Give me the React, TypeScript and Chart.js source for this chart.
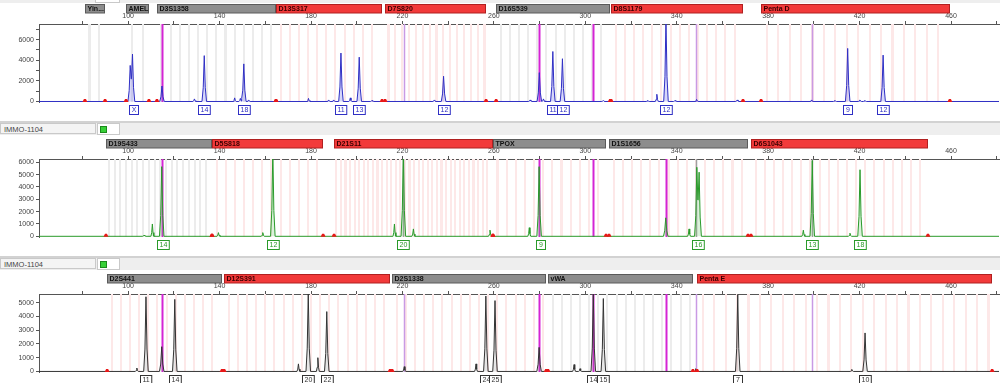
import React, { useEffect, useRef } from 'react';
import { Chart, registerables } from 'chart.js';

Chart.register(...registerables);

const FONT = "'Liberation Sans', Arial, sans-serif";

// ---------- shared x axis (size in bp) ----------
const X_MIN = 61;
const X_MAX = 481;
const X_TICKS = [80, 100, 120, 140, 160, 180, 200, 220, 240, 260, 280, 300, 320, 340, 360, 380, 400, 420, 440, 460, 480];
const X_TICK_LABELS = [100, 140, 180, 220, 260, 300, 340, 380, 420, 460];

const SAMPLE_NAME = 'IMMO-1104';

// ---------- panel 1 (blue dye) ----------
const P1_Y_TICKS = [0, 1000, 2000, 3000, 4000, 5000, 6000, 7000];
const P1_Y_LABELS = [0, 2000, 4000, 6000];
const P1_Y_RANGE = [-50, 7520];
// [size bp, height RFU]
const P1_PEAKS: number[][] = [
  [100.9, 3500], [101.9, 4600], [114.8, 1500], [129, 250], [133.3, 4450], [146.6, 350], [149.1, 300],
  [150.6, 3650], [152.7, 150], [178.9, 300], [187.7, 150], [189.9, 150], [193.1, 4700], [197.2, 350],
  [201.1, 4300], [206.7, 100], [234, 150], [238, 2450], [275.9, 150], [279.9, 2800], [281.7, 250],
  [285.8, 4850], [290, 4150], [307.9, 100], [327.3, 100], [331.3, 700], [335.3, 8000], [339.3, 100],
  [348.7, 200], [366.5, 150], [399, 150], [409.2, 100], [414.8, 5150], [420.1, 150], [422.3, 100], [430.3, 4500],
];
const P1_ALLELES: [number, string][] = [
  [102.3, 'X'], [133.3, '14'], [150.6, '18'], [193.1, '11'], [201.1, '13'], [238, '12'],
  [285.8, '11'], [290, '12'], [335.3, '12'], [414.8, '9'], [430.3, '12'],
];
// [name, start bp, end bp, bar colour, bin step bp, bin colour]
const P1_MARKERS: [string, number, number, string, number, string][] = [
  ['Yin...', 81.1, 89.9, 'g', 4, 'g'],
  ['AMEL', 99.1, 109.1, 'g', 5, 'g'],
  ['D3S1358', 112.6, 164.7, 'g', 4, 'g'],
  ['D13S317', 164.7, 211.1, 'r', 4, 'p'],
  ['D7S820', 212.4, 256.6, 'r', 3, 'p'],
  ['D16S539', 261, 310.9, 'g', 4, 'g'],
  ['D8S1179', 311.3, 369, 'r', 4, 'p'],
  ['Penta D', 376.9, 459.5, 'r', 5, 'p'],
];
const P1_PULLUPS: [number, string][] = [
  [114.8, 'm'], [220.5, 'l'], [279.9, 'm'], [303.5, 'm'], [348.6, 'l'], [399.3, 'l'],
];

// ---------- panel 2 (green dye) ----------
const P2_Y_TICKS = [0, 1000, 2000, 3000, 4000, 5000, 6000];
const P2_Y_LABELS = [0, 1000, 2000, 3000, 4000, 5000, 6000];
const P2_Y_RANGE = [-56, 6270];
const P2_PEAKS: number[][] = [
  [107, 100], [110.6, 1000], [114.7, 5650], [139.5, 300], [158.9, 300], [163.3, 7000], [216.5, 1000],
  [220.4, 7000], [224.8, 600], [258.3, 500], [275.5, 700], [279.8, 5650], [335.2, 1500], [345.4, 600],
  [348.8, 5600], [349.8, 5200], [395.4, 500], [399.3, 6150], [415.8, 250], [420.2, 5400],
];
const P2_ALLELES: [number, string][] = [
  [115.2, '14'], [163.3, '12'], [220.4, '20'], [280.3, '9'], [349.3, '16'], [399.3, '13'], [420.2, '18'],
];
const P2_MARKERS: [string, number, number, string, number, string][] = [
  ['D19S433', 90.3, 136.7, 'g', 2.5, 'g'],
  ['D5S818', 136.7, 185.3, 'r', 4, 'p'],
  ['D21S11', 190.1, 259.6, 'r', 2, 'p'],
  ['TPOX', 259.6, 309.1, 'g', 4, 'p'],
  ['D1S1656', 310.4, 371.2, 'g', 4, 'p'],
  ['D6S1043', 372.5, 449.9, 'r', 4, 'p'],
];
const P2_PULLUPS: [number, string][] = [
  [114.7, 'm'], [220.4, 'g'], [279.8, 'm'], [303.5, 'm'], [335.2, 'm'], [348.3, 'g'], [399.3, 'g'],
];

// ---------- panel 3 (black dye) ----------
const P3_Y_TICKS = [0, 1000, 2000, 3000, 4000, 5000];
const P3_Y_LABELS = [0, 1000, 2000, 3000, 4000, 5000];
const P3_Y_RANGE = [-40, 5630];
const P3_PEAKS: number[][] = [
  [103.8, 250], [107.8, 5430], [114.7, 1800], [120.4, 5240], [174.5, 550], [178.8, 5650], [183, 1000],
  [186.9, 4350], [220.8, 350], [252.2, 550], [256.5, 5480], [260.5, 5150], [279.8, 1750], [295.1, 500],
  [297.7, 200], [303.5, 5650], [307.9, 5300], [348.3, 200], [366.7, 5600], [416.6, 150], [422.4, 2800],
];
const P3_ALLELES: [number, string][] = [
  [107.8, '11'], [120.4, '14'], [178.8, '20'], [186.9, '22'], [256.5, '24'], [260.6, '25'],
  [303.5, '14'], [307.9, '15'], [366.7, '7'], [422.4, '10'],
];
const P3_MARKERS: [string, number, number, string, number, string][] = [
  ['D2S441', 90.8, 141.1, 'g', 4, 'p'],
  ['D12S391', 142, 214.6, 'r', 4, 'p'],
  ['D2S1338', 215.5, 282.9, 'g', 4, 'p'],
  ['vWA', 283.7, 347.1, 'g', 4, 'g'],
  ['Penta E', 348.9, 478, 'r', 5, 'p'],
];
const P3_PULLUPS: [number, string][] = [
  [114.7, 'm'], [220.8, 'l'], [279.8, 'm'], [303.5, 'm'], [335.2, 'm'], [348.3, 'l'], [399.3, 'l'],
];

// ---------- helpers ----------
type PanelCfg = {
  peaks: number[][];
  alleles: [number, string][];
  markers: [string, number, number, string, number, string][];
  pullups: [number, string][];
  yTicks: number[];
  yLabels: number[];
  yRange: number[];
  color: string;
  fill: string;
  height: number;
};

function peakShape(d: number, h: number, w: number) {
  const a = Math.abs(d);
  if (a >= w) return 0;
  const k = 0.45 * w;
  if (a <= k) return h * (1 - 0.7 * a / k);
  return h * 0.3 * (w - a) / (w - k);
}

function buildTrace(peaks: number[][]) {
  const xs = new Set<number>([X_MIN, X_MAX]);
  const ws = peaks.map(([, h]) => (h > 1000 ? 1.0 : 0.65));
  peaks.forEach(([p], i) => {
    const w = ws[i];
    [-w, -0.45 * w, 0, 0.45 * w, w].forEach((d) => xs.add(+(p + d).toFixed(4)));
  });
  const sorted = Array.from(xs).sort((a, b) => a - b);
  return sorted.map((x) => ({
    x,
    y: peaks.reduce((s, [p, h], i) => s + peakShape(x - p, h, ws[i]), 0),
  }));
}

const PULL_COLORS: Record<string, string> = { m: '#d424d4', l: '#c99ae4', g: '#a0a0a0' };

function makeDecor(cfg: PanelCfg) {
  return {
    id: 'panelDecor',
    beforeDatasetsDraw(chart: any) {
      const { ctx, chartArea: ca, scales } = chart;
      const x = scales.x;
      ctx.save();
      ctx.beginPath();
      ctx.rect(ca.left, ca.top, ca.right - ca.left, ca.bottom - ca.top);
      ctx.clip();
      for (const [, s, e, , step, bc] of cfg.markers) {
        ctx.fillStyle = bc === 'p' ? '#fde8e8' : '#ececec';
        for (let b = s + step / 2; b < e - 0.5; b += step) {
          const x0 = Math.round(x.getPixelForValue(b - 0.45));
          const x1 = Math.round(x.getPixelForValue(b + 0.45));
          ctx.fillRect(x0, ca.top, Math.max(1, x1 - x0), ca.bottom - ca.top);
        }
      }
      for (const [bp, c] of cfg.pullups) {
        const px = Math.round(x.getPixelForValue(bp)) + 0.5;
        ctx.strokeStyle = PULL_COLORS[c];
        ctx.lineWidth = c === 'm' ? 2 : 1.5;
        ctx.beginPath();
        ctx.moveTo(px, ca.top);
        ctx.lineTo(px, ca.bottom);
        ctx.stroke();
      }
      ctx.restore();
    },
    afterDraw(chart: any) {
      const { ctx, scales } = chart;
      const x = scales.x;
      const y = scales.y;
      ctx.save();
      // marker bars
      ctx.font = `bold 7px ${FONT}`;
      ctx.textBaseline = 'middle';
      for (const [name, s, e, c] of cfg.markers) {
        const x0 = Math.round(x.getPixelForValue(s)) + 0.5;
        const x1 = Math.round(x.getPixelForValue(e)) - 0.5;
        ctx.fillStyle = c === 'r' ? '#f23a3a' : '#8d8d8d';
        ctx.fillRect(x0, 4, x1 - x0, 9);
        ctx.strokeStyle = c === 'r' ? '#b02020' : '#5a5a5a';
        ctx.lineWidth = 1;
        ctx.strokeRect(x0, 4.5, x1 - x0, 8.5);
        ctx.fillStyle = c === 'r' ? '#3a0000' : '#111';
        ctx.textAlign = 'left';
        ctx.fillText(name, x0 + 2, 9);
      }
      // red boundary marks on the baseline
      const y0 = y.getPixelForValue(0);
      ctx.fillStyle = '#e81818';
      for (const [, s, e] of cfg.markers) {
        for (const bp of [s, e]) {
          const px = x.getPixelForValue(bp);
          ctx.beginPath();
          ctx.moveTo(px - 2.5, y0 + 0.5);
          ctx.lineTo(px - 1, y0 - 2.5);
          ctx.lineTo(px + 1, y0 - 2.5);
          ctx.lineTo(px + 2.5, y0 + 0.5);
          ctx.closePath();
          ctx.fill();
        }
      }
      // allele call boxes
      ctx.font = `7px ${FONT}`;
      ctx.textAlign = 'center';
      for (const [bp, label] of cfg.alleles) {
        const px = x.getPixelForValue(bp);
        const w = Math.max(9, ctx.measureText(label).width + 4);
        const bx = Math.round(px - w / 2) + 0.5;
        ctx.fillStyle = '#ffffff';
        ctx.fillRect(bx, 105.5, w, 9);
        ctx.strokeStyle = cfg.color;
        ctx.lineWidth = 1;
        ctx.strokeRect(bx, 105.5, w, 9);
        ctx.fillStyle = cfg.color;
        ctx.fillText(label, bx + w / 2, 110.5);
      }
      ctx.restore();
    },
  };
}

function Panel({ cfg, top }: { cfg: PanelCfg; top: number }) {
  const ref = useRef<HTMLCanvasElement | null>(null);
  useEffect(() => {
    if (!ref.current) return;
    const chart = new Chart(ref.current, {
      type: 'line',
      data: {
        datasets: [
          {
            data: buildTrace(cfg.peaks),
            borderColor: cfg.color,
            backgroundColor: cfg.fill,
            borderWidth: 1,
            pointRadius: 0,
            tension: 0,
            fill: { value: 0 },
          },
        ],
      },
      options: {
        animation: false,
        responsive: false,
        maintainAspectRatio: false,
        events: [],
        layout: { padding: { left: 0, right: 1, top: 0, bottom: cfg.height - 102 } },
        plugins: { legend: { display: false }, tooltip: { enabled: false } },
        scales: {
          x: {
            type: 'linear',
            position: 'top',
            min: X_MIN,
            max: X_MAX,
            afterBuildTicks: (axis: any) => {
              axis.ticks = X_TICKS.map((v) => ({ value: v }));
            },
            afterFit: (axis: any) => {
              axis.height = 24;
            },
            ticks: {
              autoSkip: false,
              maxRotation: 0,
              padding: 1,
              color: '#444',
              font: { size: 7, family: FONT },
              callback: (v: any) => (X_TICK_LABELS.includes(Number(v)) ? String(v) : ''),
            },
            grid: { drawOnChartArea: false, drawTicks: true, tickLength: 3, color: '#555' },
            border: { color: '#555', width: 1 },
          },
          y: {
            type: 'linear',
            min: cfg.yRange[0],
            max: cfg.yRange[1],
            afterBuildTicks: (axis: any) => {
              axis.ticks = cfg.yTicks.map((v) => ({ value: v }));
            },
            afterFit: (axis: any) => {
              axis.width = 39;
            },
            ticks: {
              autoSkip: false,
              padding: 2,
              color: '#444',
              font: { size: 7, family: FONT },
              callback: (v: any) => (cfg.yLabels.includes(Number(v)) ? String(v) : ''),
            },
            grid: { drawOnChartArea: false, drawTicks: true, tickLength: 3, color: '#555' },
            border: { color: '#555', width: 1 },
          },
        },
      },
      plugins: [makeDecor(cfg)],
    } as any);
    return () => chart.destroy();
  }, [cfg]);
  return (
    <canvas
      ref={ref}
      width={1000}
      height={cfg.height}
      style={{ position: 'absolute', left: 0, top, width: 1000, height: cfg.height, display: 'block' }}
    />
  );
}

function Header({ top }: { top: number }) {
  return (
    <div
      style={{
        position: 'absolute',
        left: 0,
        top,
        width: 1000,
        height: 14,
        background: '#eeeeee',
        borderTop: '2px solid #d2d2d2',
        boxSizing: 'border-box',
      }}
    >
      <div
        style={{
          position: 'absolute',
          left: 0,
          top: 0,
          width: 96,
          height: 11,
          background: '#f4f4f4',
          border: '1px solid #c9c9c9',
          font: `7.5px ${FONT}`,
          color: '#444',
          lineHeight: '11px',
          paddingLeft: 3,
          boxSizing: 'border-box',
        }}
      >
        {SAMPLE_NAME}
      </div>
      <div
        style={{
          position: 'absolute',
          left: 97,
          top: 0,
          width: 23,
          height: 12,
          background: '#ffffff',
          border: '1px solid #c9c9c9',
          boxSizing: 'border-box',
        }}
      >
        <div
          style={{
            position: 'absolute',
            left: 2,
            top: 2,
            width: 7,
            height: 7,
            background: '#37d037',
            border: '1px solid #1c8a1c',
            boxSizing: 'border-box',
          }}
        />
      </div>
    </div>
  );
}

const PANEL1: PanelCfg = {
  peaks: P1_PEAKS, alleles: P1_ALLELES, markers: P1_MARKERS, pullups: P1_PULLUPS,
  yTicks: P1_Y_TICKS, yLabels: P1_Y_LABELS, yRange: P1_Y_RANGE,
  color: '#2f2fc4', fill: 'rgba(110,110,235,0.28)', height: 120,
};
const PANEL2: PanelCfg = {
  peaks: P2_PEAKS, alleles: P2_ALLELES, markers: P2_MARKERS, pullups: P2_PULLUPS,
  yTicks: P2_Y_TICKS, yLabels: P2_Y_LABELS, yRange: P2_Y_RANGE,
  color: '#2a9a2a', fill: 'rgba(90,190,90,0.22)', height: 120,
};
const PANEL3: PanelCfg = {
  peaks: P3_PEAKS, alleles: P3_ALLELES, markers: P3_MARKERS, pullups: P3_PULLUPS,
  yTicks: P3_Y_TICKS, yLabels: P3_Y_LABELS, yRange: P3_Y_RANGE,
  color: '#333333', fill: 'rgba(120,120,120,0.18)', height: 113,
};

export default function App() {
  return (
    <div style={{ position: 'absolute', left: 0, top: 0, width: 1000, height: 383, background: '#ffffff', overflow: 'hidden' }}>
      <div style={{ position: 'absolute', left: 0, top: 0, width: 1000, height: 3, background: '#eeeeee' }}>
        <div style={{ position: 'absolute', left: 95, top: -1, width: 25, height: 4, background: '#fff', border: '1px solid #c9c9c9', boxSizing: 'border-box' }} />
      </div>
      <Panel cfg={PANEL1} top={0} />
      <Header top={121} />
      <Panel cfg={PANEL2} top={135} />
      <Header top={256} />
      <Panel cfg={PANEL3} top={270} />
    </div>
  );
}
